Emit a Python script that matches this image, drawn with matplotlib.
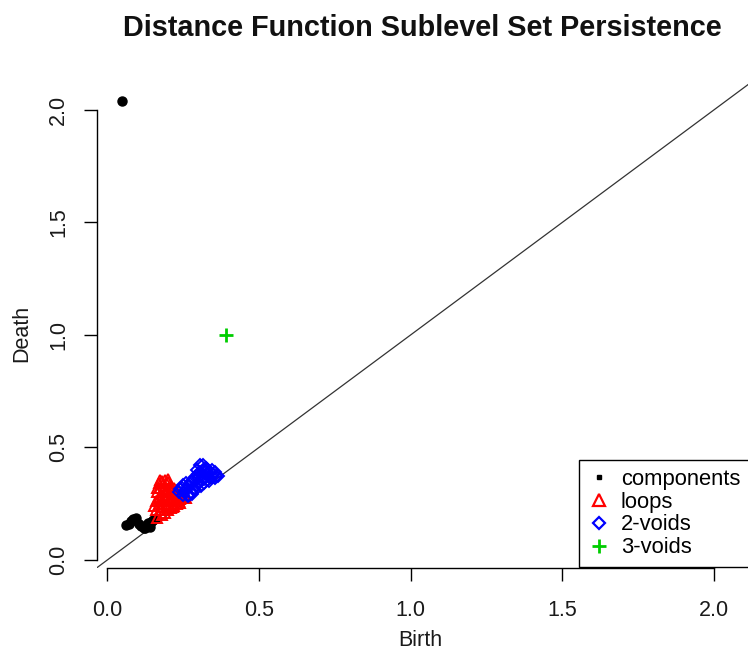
import matplotlib
matplotlib.use("Agg")
import matplotlib.pyplot as plt
from matplotlib.lines import Line2D

plt.rcParams['font.family'] = ['Liberation Sans', 'DejaVu Sans']

title = "Distance Function Sublevel Set Persistence"
xlabel = "Birth"
ylabel = "Death"
ticks = [0.0, 0.5, 1.0, 1.5, 2.0]
tick_labels = ["0.0", "0.5", "1.0", "1.5", "2.0"]

comp_birth = [0.05, 0.06, 0.07, 0.078, 0.085, 0.095, 0.105, 0.112, 0.12, 0.13, 0.135,
              0.145, 0.152, 0.16, 0.14, 0.125]
comp_death = [2.04, 0.155, 0.16, 0.172, 0.18, 0.185, 0.16, 0.15, 0.142, 0.15, 0.165,
              0.17, 0.178, 0.185, 0.145, 0.14]

loop_birth = [0.17, 0.18, 0.19, 0.20, 0.21, 0.175, 0.185, 0.195, 0.21, 0.22, 0.165, 0.17,
              0.16, 0.17, 0.18, 0.19, 0.20, 0.22, 0.23, 0.24, 0.25, 0.24, 0.23, 0.22,
              0.21, 0.20, 0.19, 0.18, 0.175, 0.165, 0.20, 0.21, 0.23, 0.215,
              0.155, 0.16, 0.17, 0.185, 0.2, 0.215, 0.225, 0.245, 0.255, 0.26,
              0.235, 0.21, 0.195, 0.18, 0.165, 0.19, 0.2, 0.225, 0.175, 0.205]
loop_death = [0.34, 0.35, 0.33, 0.345, 0.33, 0.32, 0.31, 0.30, 0.31, 0.32, 0.30, 0.28,
              0.26, 0.25, 0.26, 0.27, 0.28, 0.29, 0.28, 0.27, 0.275, 0.255, 0.25, 0.24,
              0.23, 0.22, 0.21, 0.20, 0.22, 0.185, 0.25, 0.26, 0.265, 0.235,
              0.24, 0.22, 0.27, 0.29, 0.31, 0.295, 0.3, 0.285, 0.29, 0.275,
              0.26, 0.275, 0.24, 0.235, 0.32, 0.355, 0.36, 0.31, 0.355, 0.265]

void2_birth = [0.235, 0.245, 0.25, 0.26, 0.265, 0.27, 0.275, 0.28, 0.285, 0.29, 0.29, 0.295,
               0.30, 0.305, 0.31, 0.31, 0.315, 0.32, 0.325, 0.33, 0.335, 0.34, 0.345, 0.35,
               0.355, 0.36, 0.30, 0.32, 0.28, 0.27,
               0.24, 0.255, 0.265, 0.275, 0.285, 0.295, 0.305, 0.315, 0.325, 0.335,
               0.345, 0.355, 0.365, 0.26, 0.3, 0.31, 0.33, 0.25]
void2_death = [0.30, 0.32, 0.29, 0.31, 0.285, 0.33, 0.30, 0.35, 0.32, 0.37, 0.31, 0.40,
               0.34, 0.42, 0.38, 0.33, 0.40, 0.36, 0.41, 0.38, 0.35, 0.39, 0.37, 0.38,
               0.365, 0.375, 0.365, 0.34, 0.295, 0.29,
               0.315, 0.305, 0.33, 0.345, 0.36, 0.335, 0.39, 0.42, 0.395, 0.37,
               0.4, 0.39, 0.375, 0.34, 0.38, 0.355, 0.405, 0.335]

void3_birth = [0.39]
void3_death = [1.0]

W, H = 748, 655
fig = plt.figure(figsize=(W / 100, H / 100), dpi=100)

left_px, right_px, bottom_px, top_px = 97.3, 760.0, 568.0, 80.0
ax = fig.add_axes([left_px / W, (H - bottom_px) / H,
                   (right_px - left_px) / W, (bottom_px - top_px) / H])
ax.set_xlim(-0.033, 2.152)
ax.set_ylim(-0.0356, 2.133)

ax.plot([-1, 3], [-1, 3], color='#333333', lw=0.9, zorder=1)

ax.plot(comp_birth, comp_death, 'o', color='black', ms=6.5, zorder=3)
ax.plot(loop_birth, loop_death, '^', mfc='none', mec='#ff0000', mew=1.4, ms=7.5, zorder=3)
ax.plot(void2_birth, void2_death, 'D', mfc='none', mec='#0000ff', mew=1.4, ms=6.0, zorder=3)
ax.plot(void3_birth, void3_death, '+', color='#00cd00', mew=2.0, ms=10, zorder=3)

for side in ['top', 'right']:
    ax.spines[side].set_visible(False)
ax.spines['left'].set_bounds(0, 2)
ax.spines['bottom'].set_bounds(0, 2)
for side in ['left', 'bottom']:
    ax.spines[side].set_color('black')
    ax.spines[side].set_linewidth(1.0)

ax.set_xticks(ticks)
ax.set_xticklabels(tick_labels)
ax.set_yticks(ticks)
ax.set_yticklabels(tick_labels, rotation=90, va='center')
ax.tick_params(axis='both', direction='out', length=9.4, width=1.0, color='black',
               labelsize=15.5, labelcolor='#1a1a1a')
ax.tick_params(axis='x', pad=14)
ax.tick_params(axis='y', pad=11)

fig.text(422 / W, 1 - 28 / H, title, ha='center', va='center', fontsize=20.8,
         fontweight='bold', color='#111111')
fig.text(420 / W, 1 - 641 / H, xlabel, ha='center', va='center', fontsize=15.5, color='#1a1a1a')
fig.text(22 / W, 1 - 333 / H, ylabel, ha='center', va='center', rotation=90,
         fontsize=15.5, color='#1a1a1a')

handles = [
    Line2D([], [], ls='none', marker='s', color='black', ms=3.5),
    Line2D([], [], ls='none', marker='^', mfc='none', mec='#ff0000', mew=1.6, ms=8),
    Line2D([], [], ls='none', marker='D', mfc='none', mec='#0000ff', mew=1.6, ms=6.5),
    Line2D([], [], ls='none', marker='+', color='#00cd00', mew=2.0, ms=10),
]
labels = ["components", "loops", "2-voids", "3-voids"]
leg = fig.legend(handles, labels, loc='lower left',
                 bbox_to_anchor=(579 / W, (H - 567) / H, (790 - 579) / W, 0.2),
                 mode='expand', fontsize=15.8, frameon=True, fancybox=False,
                 edgecolor='black', framealpha=1, borderpad=0.4, labelspacing=0.08,
                 handlelength=1.0, handletextpad=0.5, borderaxespad=0.0)
leg.get_frame().set_linewidth(1.0)

fig.savefig("out.png", dpi=100)
